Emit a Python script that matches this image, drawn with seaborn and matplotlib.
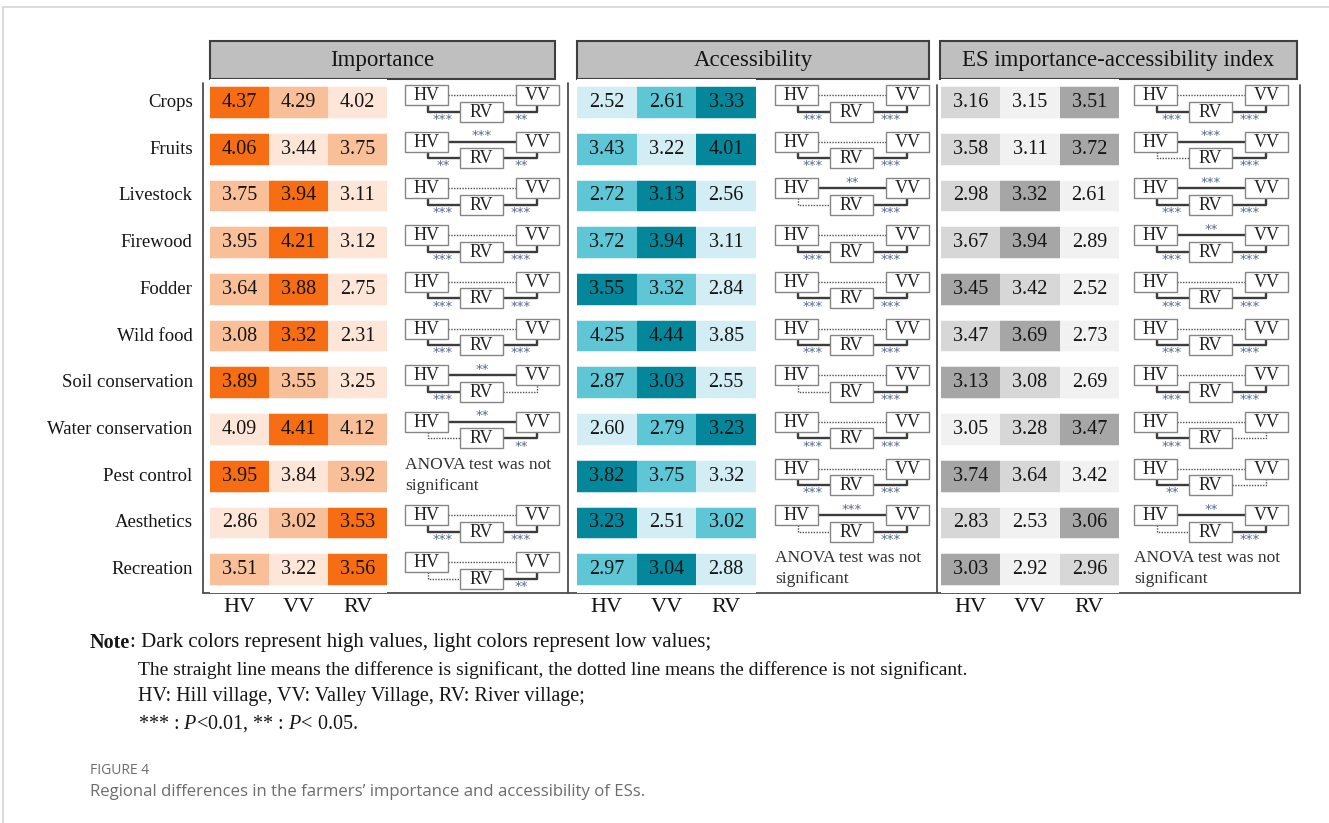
import numpy as np
import pandas as pd
import matplotlib
matplotlib.use("Agg")
import matplotlib.pyplot as plt
import seaborn as sns
from matplotlib.colors import ListedColormap
from matplotlib.patches import Rectangle

# ---------------- data ----------------
services = ["Crops", "Fruits", "Livestock", "Firewood", "Fodder", "Wild food",
            "Soil conservation", "Water conservation", "Pest control",
            "Aesthetics", "Recreation"]
villages = ["HV", "VV", "RV"]

imp_hv = [4.37, 4.06, 3.75, 3.95, 3.64, 3.08, 3.89, 4.09, 3.95, 2.86, 3.51]
imp_vv = [4.29, 3.44, 3.94, 4.21, 3.88, 3.32, 3.55, 4.41, 3.84, 3.02, 3.22]
imp_rv = [4.02, 3.75, 3.11, 3.12, 2.75, 2.31, 3.25, 4.12, 3.92, 3.53, 3.56]

acc_hv = [2.52, 3.43, 2.72, 3.72, 3.55, 4.25, 2.87, 2.60, 3.82, 3.23, 2.97]
acc_vv = [2.61, 3.22, 3.13, 3.94, 3.32, 4.44, 3.03, 2.79, 3.75, 2.51, 3.04]
acc_rv = [3.33, 4.01, 2.56, 3.11, 2.84, 3.85, 2.55, 3.23, 3.32, 3.02, 2.88]

idx_hv = [3.16, 3.58, 2.98, 3.67, 3.45, 3.47, 3.13, 3.05, 3.74, 2.83, 3.03]
idx_vv = [3.15, 3.11, 3.32, 3.94, 3.42, 3.69, 3.08, 3.28, 3.64, 2.53, 2.92]
idx_rv = [3.51, 3.72, 2.61, 2.89, 2.52, 2.73, 2.69, 3.47, 3.42, 3.06, 2.96]

# significance (HV-VV, HV-RV, VV-RV); "ns" = not significant; None = ANOVA n.s.
imp_sig = [("ns", "***", "**"), ("***", "**", "**"), ("ns", "***", "***"),
           ("ns", "***", "***"), ("ns", "***", "***"), ("ns", "***", "***"),
           ("**", "***", "ns"), ("**", "ns", "**"), None,
           ("ns", "***", "***"), ("ns", "ns", "**")]
acc_sig = [("ns", "***", "***"), ("ns", "***", "***"), ("**", "ns", "***"),
           ("ns", "***", "***"), ("ns", "***", "***"), ("ns", "***", "***"),
           ("ns", "ns", "***"), ("ns", "***", "***"), ("ns", "***", "***"),
           ("***", "ns", "***"), None]
idx_sig = [("ns", "***", "***"), ("***", "ns", "***"), ("***", "***", "***"),
           ("**", "***", "***"), ("ns", "***", "***"), ("ns", "***", "***"),
           ("ns", "***", "***"), ("ns", "***", "ns"), ("ns", "**", "ns"),
           ("**", "ns", "***"), None]

panel_titles = ["Importance", "Accessibility", "ES importance-accessibility index"]
palettes = [["#FDE6D8", "#F9BF98", "#F76D14"],
            ["#D2EDF3", "#5EC6D5", "#04879A"],
            ["#F1F1F1", "#D7D7D7", "#A6A6A6"]]

# ---------------- style ----------------
sns.set_style("white")
SERIF = "Liberation Serif"
plt.rcParams["font.family"] = [SERIF, "DejaVu Serif"]
plt.rcParams["mathtext.fontset"] = "custom"
plt.rcParams["mathtext.rm"] = SERIF
plt.rcParams["mathtext.it"] = SERIF + ":italic"

W, H = 1329, 823
fig = plt.figure(figsize=(W / 100, H / 100), dpi=100)
fig.patch.set_facecolor("white")

ov = fig.add_axes([0, 0, 1, 1])
ov.set_xlim(0, W)
ov.set_ylim(H, 0)
ov.axis("off")


def px_axes(x0, y0, x1, y1):
    return fig.add_axes([x0 / W, 1 - y1 / H, (x1 - x0) / W, (y1 - y0) / H])


TOP, PITCH = 79.2, 46.7
BOT = TOP + PITCH * len(services)

panels = [
    dict(vals=(imp_hv, imp_vv, imp_rv), sig=imp_sig, cx=(210, 387), dx=405,
         head=(210, 555)),
    dict(vals=(acc_hv, acc_vv, acc_rv), sig=acc_sig, cx=(577, 756), dx=775,
         head=(577, 929)),
    dict(vals=(idx_hv, idx_vv, idx_rv), sig=idx_sig, cx=(941, 1119), dx=1134,
         head=(940, 1297)),
]

star_c = "#56688f"


def sig_style(s):
    if s == "ns":
        return dict(color="#505050", lw=1.0, ls=(0, (1, 1)), zorder=2)
    return dict(color="#3c3c3c", lw=1.7, ls="-", zorder=2)


def draw_sig(x0, yc, sig, anova_dy=(-11, 10)):
    if sig is None:
        ov.text(x0, yc + anova_dy[0], "ANOVA test was not", fontsize=12.5,
                color="#303030", va="center", ha="left")
        ov.text(x0, yc + anova_dy[1], "significant", fontsize=12.5,
                color="#303030", va="center", ha="left")
        return
    hv_vv, hv_rv, vv_rv = sig
    bw, bh = 43, 20
    y_top = yc - 7.5
    y_rv = yc + 9
    ov.plot([x0 + bw, x0 + 111], [y_top, y_top], **sig_style(hv_vv))
    ov.plot([x0 + 23, x0 + 23, x0 + 55], [y_top + bh / 2, y_rv, y_rv], **sig_style(hv_rv))
    ov.plot([x0 + 98, x0 + 132, x0 + 132], [y_rv, y_rv, y_top + bh / 2], **sig_style(vv_rv))
    for bx, by, lab in [(x0, y_top, "HV"), (x0 + 55, y_rv, "RV"), (x0 + 111, y_top, "VV")]:
        ov.add_patch(Rectangle((bx, by - bh / 2), bw, bh, facecolor="white",
                               edgecolor="#858585", lw=1.0, zorder=3))
        ov.text(bx + bw / 2, by + 0.5, lab, fontsize=13, ha="center", va="center",
                color="#222222", zorder=4)
    skw = dict(fontsize=9.5, family="DejaVu Sans", ha="center", color=star_c, zorder=4)
    if hv_vv != "ns":
        ov.text(x0 + 77, y_top + 0.5, hv_vv, va="bottom", **skw)
    if hv_rv != "ns":
        ov.text(x0 + 38, y_rv + 1.2, hv_rv, va="top", **skw)
    if vv_rv != "ns":
        ov.text(x0 + 116, y_rv + 1.2, vv_rv, va="top", **skw)


for k, p in enumerate(panels):
    vals = pd.DataFrame(dict(zip(villages, p["vals"])), index=services)
    ranks = vals.rank(axis=1, method="first")
    cmap = ListedColormap(palettes[k])
    x0, x1 = p["cx"]
    ax = px_axes(x0, TOP, x1, BOT)
    sns.heatmap(ranks, ax=ax, cmap=cmap, vmin=0.5, vmax=3.5, cbar=False,
                annot=vals, fmt=".2f",
                annot_kws=dict(fontsize=14.5, color="#151515", family=SERIF),
                xticklabels=villages, yticklabels=services if k == 0 else False)
    for i in range(len(services) + 1):
        ax.axhline(i, color="white", lw=15.5 * 0.72, zorder=2)
    ax.tick_params(axis="x", length=0, pad=3.5, labelsize=16, rotation=0)
    ax.tick_params(axis="y", length=0, pad=12.5, labelsize=13.5, rotation=0)
    for t in ax.get_xticklabels():
        t.set_fontfamily(SERIF)
        t.set_color("#151515")
    for t in ax.get_yticklabels():
        t.set_fontfamily(SERIF)
        t.set_color("#151515")
    ax.patch.set_visible(False)

    # header box
    h0, h1 = p["head"]
    ov.add_patch(Rectangle((h0, 41), h1 - h0, 38, facecolor="#BFBFBF",
                           edgecolor="#3f3f3f", lw=1.5, zorder=3))
    ov.text((h0 + h1) / 2, 60.5, panel_titles[k], fontsize=16.5, ha="center",
            va="center", color="#151515", zorder=4)

    # significance diagrams
    for i, s in enumerate(p["sig"]):
        yc = TOP + PITCH * (i + 0.5)
        draw_sig(p["dx"], yc, s, anova_dy=(-11, 10) if k == 0 else (-12, 9))

# frame lines
fc = "#4d4d4d"
for x, y0 in [(203, 83), (568, 83), (937, 85), (1300, 85)]:
    ov.plot([x, x], [y0, 592.5], color=fc, lw=1.3, zorder=2)
ov.plot([203, 1300], [592.5, 592.5], color=fc, lw=1.3, zorder=2)

# page border
ov.plot([3, W], [7, 7], color="#d4d4d4", lw=1.2)
ov.plot([3, 3], [7, H], color="#d4d4d4", lw=1.2)

# notes
NFS = 14.5
t1 = ov.text(90, 643, "Note", fontsize=NFS, fontweight="bold", ha="left",
             va="center", color="#151515")
ov.annotate(": Dark colors represent high values, light colors represent low values;",
            xy=(1, 0.5), xycoords=t1, va="center", ha="left", fontsize=NFS + 0.5,
            color="#151515")
ov.text(138, 670, "The straight line means the difference is significant, the dotted line "
        "means the difference is not significant.", fontsize=NFS - 0.5, ha="left",
        va="center", color="#151515")
ov.text(138, 697, "HV: Hill village, VV: Valley Village, RV: River village;",
        fontsize=NFS, ha="left", va="center", color="#151515")
ov.text(138, 724, r"*** : $\mathit{P}$<0.01, ** : $\mathit{P}$< 0.05.",
        fontsize=NFS, ha="left", va="center", color="#151515")

ov.text(90, 770, "FIGURE 4", fontsize=10, family="Open Sans", ha="left",
        va="center", color="#6d6d6d")
ov.text(90, 792, "Regional differences in the farmers\u2019 importance and accessibility of ESs.",
        fontsize=12.1, family="Open Sans", ha="left", va="center", color="#6d6d6d")

fig.savefig("out.png", dpi=100, facecolor="white")
